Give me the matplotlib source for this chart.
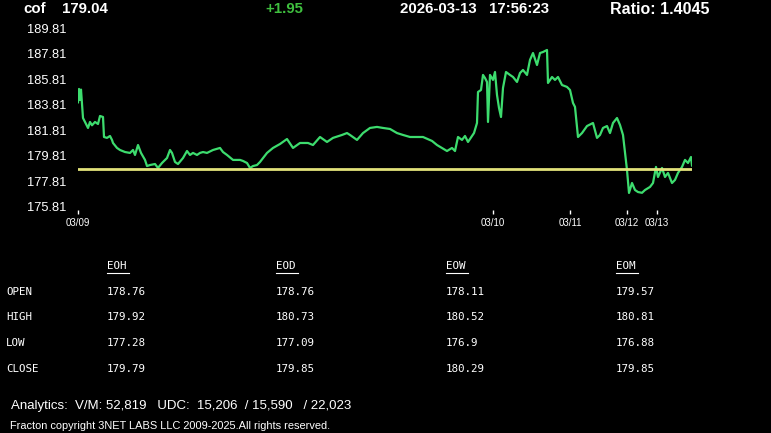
import matplotlib.pyplot as plt

# intraday price path (bar index, price)
bar_idx = [0, 1, 2, 3, 4, 5, 7, 10, 12, 14, 17, 20, 22, 25, 26, 29, 32, 34, 35, 39,
           42, 47, 52, 55, 57, 60, 63, 67, 69, 72, 77, 80, 84, 89, 92, 94, 97, 100, 105, 109,
           112, 115, 119, 122, 125, 129, 135, 142, 145, 149, 155, 162, 165, 169, 172, 175, 179, 182, 189, 195,
           202, 209, 215, 222, 230, 235, 242, 249, 255, 264, 269, 272, 279, 285, 292, 299, 305, 312, 319, 325,
           332, 339, 345, 354, 359, 364, 369, 374, 377, 380, 384, 387, 390, 394, 396, 399, 400, 403, 405, 407,
           409, 410, 412, 415, 417, 419, 421, 423, 425, 428, 432, 435, 439, 442, 445, 449, 452, 455, 459, 462,
           465, 469, 470, 474, 477, 480, 484, 489, 492, 495, 497, 500, 504, 509, 515, 519, 522, 525, 529, 532,
           535, 539, 542, 545, 549, 551, 554, 557, 560, 564, 567, 572, 575, 578, 580, 584, 587, 590, 594, 597,
           600, 604, 607, 610, 613, 614]
prices = [184.0, 185.05, 184.19, 185.0, 183.9, 182.77, 182.46, 181.99, 182.46, 182.2, 182.46, 182.3, 182.93, 182.85, 181.28, 181.21, 181.36, 181.05, 180.81, 180.42,
          180.26, 180.10, 180.03, 180.26, 179.87, 180.65, 180.03, 179.48, 179.00, 179.08, 179.16, 178.85, 179.24, 179.63, 180.26, 180.03, 179.32, 179.16, 179.63, 180.18,
          179.87, 180.03, 179.87, 180.03, 180.10, 180.03, 180.26, 180.42, 180.10, 179.87, 179.48, 179.48, 179.40, 179.24, 178.85, 179.00, 179.08, 179.32, 180.03, 180.42,
          180.73, 181.12, 180.42, 180.81, 180.81, 180.65, 181.28, 180.89, 181.21, 181.44, 181.59, 181.44, 181.05, 181.59, 181.99, 182.07, 181.99, 181.91, 181.59, 181.44,
          181.28, 181.28, 181.28, 180.97, 180.65, 180.42, 180.18, 180.42, 180.18, 181.28, 181.05, 181.36, 180.89, 181.36, 181.59, 182.38, 184.81, 184.97, 186.15, 185.91,
          185.60, 182.46, 186.15, 185.76, 186.38, 184.58, 183.56, 182.85, 185.13, 186.38, 186.15, 185.99, 185.60, 186.30, 186.54, 186.15, 187.33, 187.87, 186.93, 187.87,
          187.95, 188.11, 185.52, 185.99, 185.76, 185.99, 185.36, 185.21, 184.97, 183.95, 183.64, 181.28, 181.59, 182.14, 182.38, 181.21, 181.44, 181.99, 182.14, 181.59,
          182.38, 182.77, 182.22, 181.44, 178.69, 176.89, 177.67, 177.12, 176.96, 176.90, 177.12, 177.36, 177.67, 178.93, 178.14, 178.85, 178.14, 178.46, 177.67, 177.91,
          178.46, 178.93, 179.48, 179.24, 179.71, 179.04]

ref_line = 178.76
yticks = [175.81, 177.81, 179.81, 181.81, 183.81, 185.81, 187.81, 189.81]
date_ticks = [0, 415, 492, 549, 579]
date_labels = ["03/09", "03/10", "03/11", "03/12", "03/13"]

cols = ["EOH", "EOD", "EOW", "EOM"]
rows = ["OPEN", "HIGH", "LOW", "CLOSE"]
table_vals = [["178.76", "178.76", "178.11", "179.57"],
              ["179.92", "180.73", "180.52", "180.81"],
              ["177.28", "177.09", "176.9", "176.88"],
              ["179.79", "179.85", "180.29", "179.85"]]

W, H = 771, 433
fig = plt.figure(figsize=(W / 100, H / 100), dpi=100, facecolor="black")


def px(x, y):
    return x / W, 1 - y / H


# price chart
ax = fig.add_axes([78 / W, 1 - 210 / H, 614 / W, 185 / H], facecolor="black")
ax.plot(bar_idx, prices, color="#3ddc6e", lw=1.6)
ax.axhline(ref_line, color="#e2e27a", lw=2)
ax.set_xlim(0, 614)
ax.set_ylim(175.55, 190.07)
for s in ax.spines.values():
    s.set_visible(False)
ax.set_yticks(yticks)
ax.set_yticklabels([f"{v:.2f}" for v in yticks])
ax.tick_params(axis="y", length=0, pad=8.5, labelcolor="white", labelsize=9.3)
ax.set_xticks(date_ticks)
ax.set_xticklabels(date_labels)
ax.tick_params(axis="x", length=3, width=1, color="white", pad=2.5, labelcolor="white", labelsize=7)
for lab in ax.get_xticklabels() + ax.get_yticklabels():
    lab.set_family("Liberation Sans")

# header
hdr = dict(color="white", fontsize=10.8, fontweight="bold", va="center", family="Liberation Sans")
fig.text(*px(23, 9), "cof", **hdr)
fig.text(*px(62, 9), "179.04", **hdr)
fig.text(*px(265, 9), "+1.95", **{**hdr, "color": "#3fbf3f"})
fig.text(*px(400, 9), "2026-03-13   17:56:23", **hdr)
fig.text(*px(610, 9), "Ratio: 1.4045", **{**hdr, "fontsize": 11.5})

# OHLC table
mono = dict(color="white", fontsize=7.8, va="center", family="DejaVu Sans Mono")
col_x = [107, 276, 446, 616]
row_y = [292, 317, 343, 369]
for cx, c in zip(col_x, cols):
    fig.text(*px(cx, 266), c, **mono)
    fig.add_artist(plt.Line2D([cx / W, (cx + 22) / W], [1 - 273 / H, 1 - 273 / H], color="white", lw=0.8))
for ry, r, vals in zip(row_y, rows, table_vals):
    fig.text(*px(6, ry), r, **mono)
    for cx, v in zip(col_x, vals):
        fig.text(*px(cx, ry), v, **mono)

# footer
fig.text(*px(11, 406), "Analytics:  V/M: 52,819   UDC:  15,206  / 15,590   / 22,023",
         color="white", fontsize=9.55, va="center", family="Liberation Sans")
fig.text(*px(10, 426), "Fracton copyright 3NET LABS LLC 2009-2025.All rights reserved.",
         color="white", fontsize=7.9, va="center", family="Liberation Sans")

fig.savefig("out.png", dpi=100, facecolor="black")
